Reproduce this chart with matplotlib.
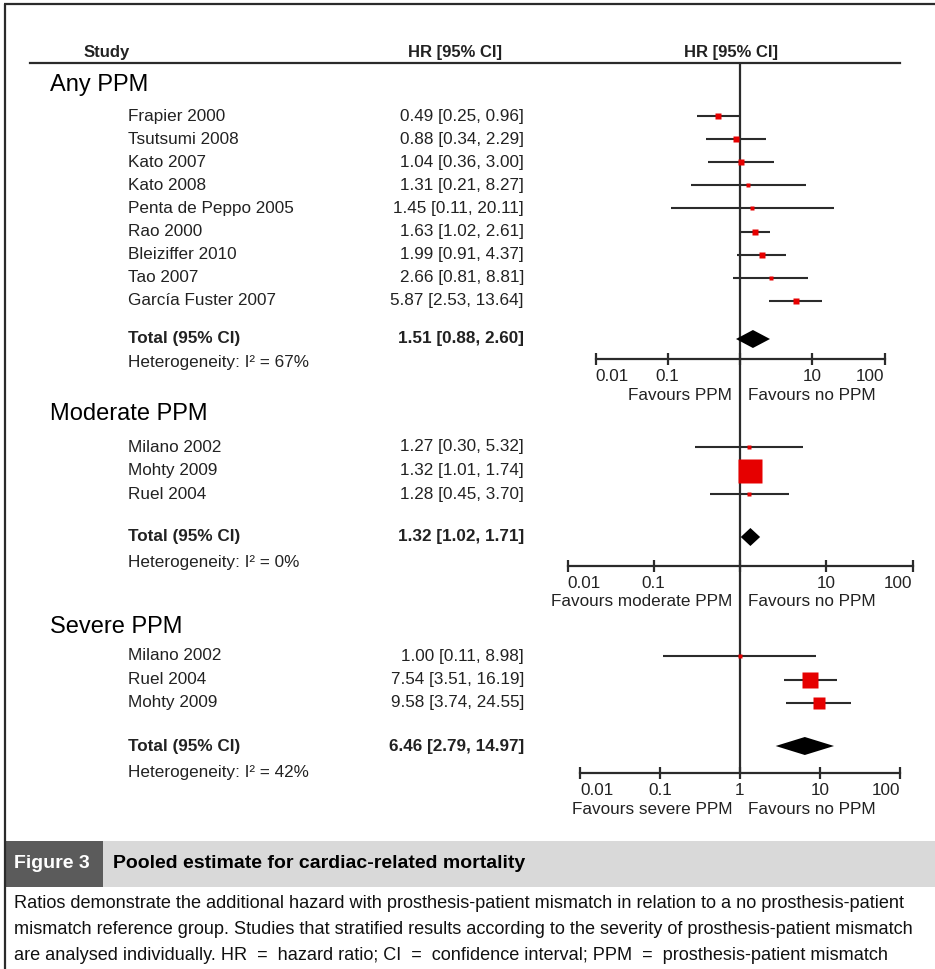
import numpy as np
import matplotlib
matplotlib.use('Agg')
import matplotlib.pyplot as plt
from matplotlib import font_manager
from matplotlib.ticker import FixedLocator, NullLocator

W, H = 935, 969

# ---- data ----
any_names = ['Frapier 2000', 'Tsutsumi 2008', 'Kato 2007', 'Kato 2008',
             'Penta de Peppo 2005', 'Rao 2000', 'Bleiziffer 2010', 'Tao 2007',
             'García Fuster 2007']
any_hr = [0.49, 0.88, 1.04, 1.31, 1.45, 1.63, 1.99, 2.66, 5.87]
any_lo = [0.25, 0.34, 0.36, 0.21, 0.11, 1.02, 0.91, 0.81, 2.53]
any_hi = [0.96, 2.29, 3.00, 8.27, 20.11, 2.61, 4.37, 8.81, 13.64]
any_wt = [7.0, 6.5, 6.8, 3.2, 2.8, 8.0, 6.5, 3.8, 8.5]
any_total = [1.51, 0.88, 2.60]
any_i2 = 67

mod_names = ['Milano 2002', 'Mohty 2009', 'Ruel 2004']
mod_hr = [1.27, 1.32, 1.28]
mod_lo = [0.30, 1.01, 0.45]
mod_hi = [5.32, 1.74, 3.70]
mod_wt = [1.8, 95.0, 1.9]
mod_total = [1.32, 1.02, 1.71]
mod_i2 = 0

sev_names = ['Milano 2002', 'Ruel 2004', 'Mohty 2009']
sev_hr = [1.00, 7.54, 9.58]
sev_lo = [0.11, 3.51, 3.74]
sev_hi = [8.98, 16.19, 24.55]
sev_wt = [3.5, 40.0, 28.0]
sev_total = [6.46, 2.79, 14.97]
sev_i2 = 42

tick_vals = [0.01, 0.1, 1, 10, 100]
tick_txt = ['0.01', '0.1', '1', '10', '100']

caption_lines = [
    'Ratios demonstrate the additional hazard with prosthesis-patient mismatch in relation to a no prosthesis-patient',
    'mismatch reference group. Studies that stratified results according to the severity of prosthesis-patient mismatch',
    'are analysed individually. HR  =  hazard ratio; CI  =  confidence interval; PPM  =  prosthesis-patient mismatch',
]

plt.rcParams['font.family'] = ['Liberation Sans', 'DejaVu Sans']
installed = {f.name for f in font_manager.fontManager.ttflist}
cap_font = ['Liberation Sans Narrow', 'DejaVu Sans'] if 'Liberation Sans Narrow' in installed else ['Liberation Sans', 'DejaVu Sans']

TXT = '#222222'
LINE = '#2b2b2b'
RED = '#e60000'

fig = plt.figure(figsize=(W / 100, H / 100), dpi=100)
fig.patch.set_facecolor('white')

# overlay axes in pixel units for text and frame
bg = fig.add_axes([0, 0, 1, 1])
bg.set_xlim(0, W)
bg.set_ylim(H, 0)
bg.axis('off')

# frame
bg.plot([4, W], [4, 4], color=LINE, lw=1.6, solid_capstyle='butt')
bg.plot([5, 5], [4, H], color=LINE, lw=1.6, solid_capstyle='butt')

# header
bg.text(107, 52, 'Study', ha='center', va='center', fontsize=12, fontweight='bold', color=TXT)
bg.text(455, 52, 'HR [95% CI]', ha='center', va='center', fontsize=12, fontweight='bold', color=TXT)
bg.text(731, 52, 'HR [95% CI]', ha='center', va='center', fontsize=12, fontweight='bold', color=TXT)
bg.plot([30, 900], [63, 63], color=LINE, lw=1.6)


def forest_section(title, title_y, names, hr, lo, hi, wt, total, i2,
                   row0, step, total_y, het_y, x_half, ax_top, ax_y, ax_bot,
                   vline_end, fav_left, fav_y, show_one):
    # left text columns
    bg.text(50, title_y, title, ha='left', va='center', fontsize=17, color='black')
    ys = [row0 + i * step for i in range(len(names))]
    for y, n, h, l, u in zip(ys, names, hr, lo, hi):
        bg.text(128, y, n, ha='left', va='center', fontsize=12.3, color=TXT)
        bg.text(524, y, f'{h:.2f} [{l:.2f}, {u:.2f}]', ha='right', va='center',
                fontsize=12.3, color=TXT)
    bg.text(128, total_y, 'Total (95% CI)', ha='left', va='center', fontsize=12.3,
            fontweight='bold', color=TXT)
    bg.text(524, total_y, f'{total[0]:.2f} [{total[1]:.2f}, {total[2]:.2f}]',
            ha='right', va='center', fontsize=12.3, fontweight='bold', color=TXT)
    bg.text(128, het_y, f'Heterogeneity: I² = {i2}%', ha='left', va='center',
            fontsize=12.3, color=TXT)

    # forest panel: log x, y in pixel units
    x0, x1 = 740 - x_half, 740 + x_half
    ax = fig.add_axes([x0 / W, 1 - ax_bot / H, (x1 - x0) / W, (ax_bot - ax_top) / H])
    ax.set_xscale('log')
    ax.set_xlim(0.01, 100)
    ax.set_ylim(ax_bot, ax_top)
    ax.patch.set_alpha(0)
    for s in ['top', 'right', 'left']:
        ax.spines[s].set_visible(False)
    ax.spines['bottom'].set_position(('data', ax_y))
    ax.spines['bottom'].set_linewidth(1.6)
    ax.spines['bottom'].set_color(LINE)
    ax.yaxis.set_visible(False)
    ax.xaxis.set_major_locator(FixedLocator(tick_vals))
    ax.xaxis.set_minor_locator(NullLocator())
    labels = [t if (t != '1' or show_one) else '' for t in tick_txt]
    ax.set_xticklabels(labels)
    ax.tick_params(axis='x', direction='inout', length=8, width=1.6, color=LINE,
                   labelsize=12.3, labelcolor=TXT, pad=3.5)
    tl = ax.get_xticklabels()
    tl[0].set_ha('left')
    tl[-1].set_ha('right')

    ax.vlines(1, ax_top, vline_end, color=LINE, lw=1.6, zorder=1)

    for y, h, l, u, w in zip(ys, hr, lo, hi, wt):
        ax.hlines(y, l, u, color=LINE, lw=1.5, zorder=2)
        side = 2.4 * np.sqrt(w) * 0.72
        ax.plot(h, y, marker='s', ms=side, color=RED, mec='none', zorder=3)

    est, tlo, thi = total
    ax.fill([tlo, est, thi, est], [total_y, total_y - 9, total_y, total_y + 9],
            color='black', lw=0, zorder=3)

    bg.text(732, fav_y, fav_left, ha='right', va='center', fontsize=12.3, color=TXT)
    bg.text(748, fav_y, 'Favours no PPM', ha='left', va='center', fontsize=12.3, color=TXT)
    return ax


forest_section('Any PPM', 85, any_names, any_hr, any_lo, any_hi, any_wt, any_total, any_i2,
               116, 23.1, 339, 362, 144.5, 63, 359, 404, 404, 'Favours PPM', 395, False)
forest_section('Moderate PPM', 414, mod_names, mod_hr, mod_lo, mod_hi, mod_wt, mod_total, mod_i2,
               447, 23.5, 537, 563, 172.5, 404, 566, 615, 615, 'Favours moderate PPM', 601, False)
forest_section('Severe PPM', 627, sev_names, sev_hr, sev_lo, sev_hi, sev_wt, sev_total, sev_i2,
               656, 23.5, 746, 772, 160, 615, 773, 800, 773, 'Favours severe PPM', 809, True)

# caption band
bg.add_patch(plt.Rectangle((6, 841), 97, 46, color='#5b5b5b', lw=0))
bg.add_patch(plt.Rectangle((103, 841), W - 103, 46, color='#d9d9d9', lw=0))
fig_lbl = bg.text(14, 864, 'Figure 3', ha='left', va='center', fontsize=14,
                  fontweight='bold', color='white', family=cap_font)
title = bg.text(113, 864, 'Pooled estimate for cardiac-related mortality', ha='left',
                va='center', fontsize=14, fontweight='bold', color='black', family=cap_font)
cap_txt = [bg.text(14, 903 + 26 * i, line, ha='left', va='center', fontsize=13,
                   color='#111111', family=cap_font) for i, line in enumerate(caption_lines)]

# keep the widest caption line inside the frame
fig.canvas.draw()
r = fig.canvas.get_renderer()
fig_lbl.set_fontsize(fig_lbl.get_fontsize() * 76 / fig_lbl.get_window_extent(r).width)
w = max(t.get_window_extent(r).width for t in cap_txt)
for t in cap_txt:
    t.set_fontsize(t.get_fontsize() * 900 / w)

fig.savefig('out.png', dpi=100)
